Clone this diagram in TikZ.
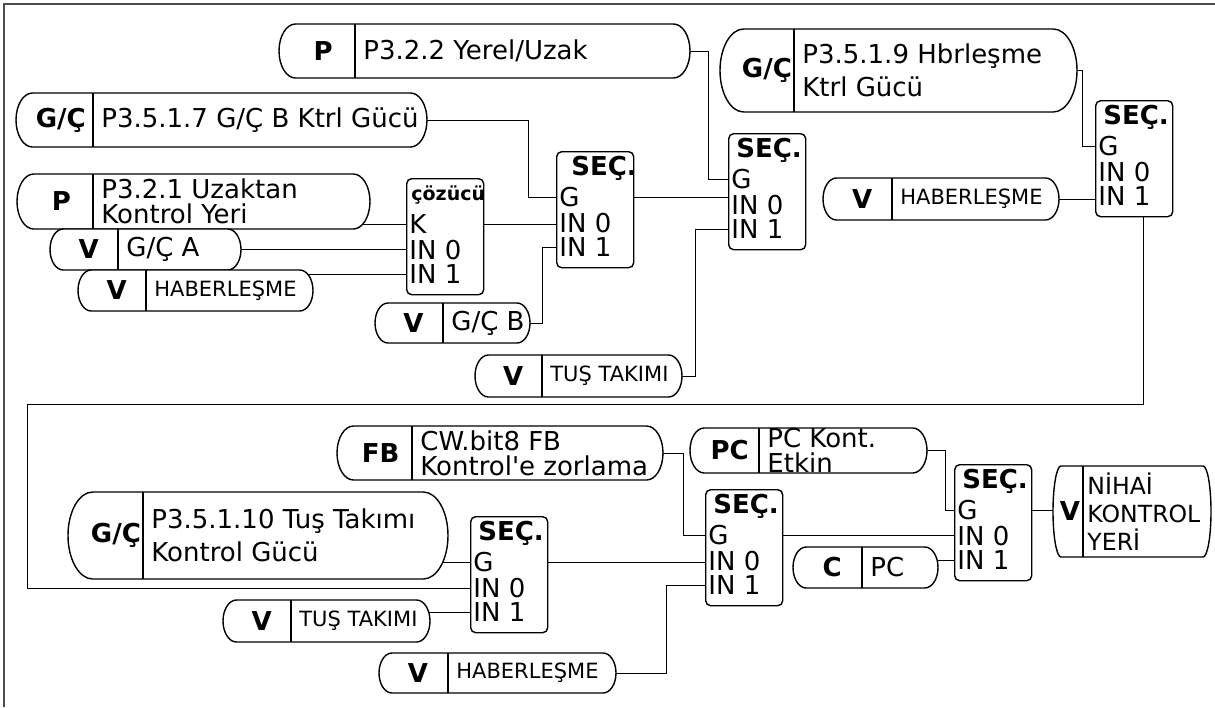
\documentclass[tikz,border=0pt]{standalone}
\usepackage{fontspec}
\setmainfont{DejaVu Sans}
\usepackage{tikz}
\usetikzlibrary{calc}
\usetikzlibrary{backgrounds}

\newcommand{\smalltxt}{\fontsize{10.5}{12}\selectfont}
\newcommand{\cozfont}{\fontsize{9.5}{10}\selectfont}

\tikzset{
  srcline/.style={draw, line width=0.7pt, fill=white},
  tagtxt/.style={inner sep=0pt, font=\fontsize{13}{14}\selectfont\bfseries},
  bodytxt/.style={anchor=west, inner sep=0pt, align=left, font=\fontsize{13}{12.5}\selectfont},
  selnode/.style={draw, line width=0.7pt, fill=white, rounded corners=2.5pt,
    minimum width=38.5pt, minimum height=58pt, inner sep=0pt},
  seltitle/.style={anchor=west, inner sep=0pt, font=\fontsize{13}{14}\selectfont\bfseries},
  selport/.style={anchor=west, inner sep=0pt, font=\fontsize{13}{13}\selectfont},
  wire/.style={line width=0.7pt},
  pageframe/.style={line width=1pt, black!70}
}

% source box: [bulge]{name}{left}{divider}{right}{top}{bottom}{tag}{text}
\newcommand{\srcbox}[9][0]{%
  \pgfmathsetmacro\sbBulge{ifthenelse(#1==0, 0.25*(#7-#6)+3, #1)}%
  \pgfmathsetmacro\sbMid{(#6+#7)/2}%
  \pgfmathsetmacro\sbRad{(#7-#6)/2}%
  \draw[srcline] (#3+\sbBulge,#6) -- (#5-\sbBulge,#6)
    arc[start angle=-90, end angle=90, x radius=\sbBulge, y radius=\sbRad]
    -- (#3+\sbBulge,#7)
    arc[start angle=90, end angle=270, x radius=\sbBulge, y radius=\sbRad] -- cycle;
  \draw[srcline] (#4,#6) -- (#4,#7);
  \node[tagtxt] (#2-tag) at ({(#3+\sbBulge+#4)/2-2},\sbMid) {#8};
  \node[bodytxt] (#2-txt) at (#4+8,\sbMid) {#9};
  \coordinate (#2) at (#5,\sbMid);
}

% selector block: [title offset]{name}{left}{top}{title}{first port}
\newcommand{\selbox}[6][8]{%
  \node[selnode, anchor=north west] (#2) at (#3,#4) {};
  \node[seltitle] (#2-t) at (#3+#1,#4+17.5) {#5};
  \node[selport] (#2-sel) at (#3+3,#4+46) {#6};
  \node[selport] (#2-in0) at (#3+3,#4+72) {IN 0};
  \node[selport] (#2-in1) at (#3+3,#4+96) {IN 1};
}

\begin{document}
\begin{tikzpicture}[x=0.5pt, y=-0.5pt]
    \useasboundingbox (0,0) rectangle (1215,707);

    % Page frame
    \draw[pageframe] (4,707) -- (4,4) -- (1215,4);

    % Upper chain
    \srcbox{p322}{279}{355}{690}{24}{78}{P}{P3.2.2 Yerel/Uzak}
    \srcbox{gc3517}{16}{93}{427}{93}{147}{G/Ç}{P3.5.1.7 G/Ç B Ktrl Gücü}
    \srcbox{gc3519}{720}{794}{1077}{29}{112}{G/Ç}{P3.5.1.9 Hbrleşme\\[4pt]Ktrl Gücü}
    \srcbox{vhab1}{823}{892}{1059}{178}{220}{V}{\smalltxt HABERLEŞME}
    \srcbox{p321}{17}{93}{370}{174}{229}{P}{P3.2.1 Uzaktan\\Kontrol Yeri}
    \srcbox{vgca}{50}{118}{241}{229}{270}{V}{G/Ç A}
    \srcbox{vhab2}{78}{146}{313}{270}{311}{V}{\smalltxt HABERLEŞME}
    \srcbox{vgcb}{375}{443}{530}{303}{343}{V}{G/Ç B}
    \srcbox{vtus1}{475}{542}{682}{355}{397}{V}{\smalltxt TUŞ TAKIMI}

    \selbox[5]{coz}{406}{178}{\cozfont çözücü}{K}
    \selbox[15]{sec1}{556}{151}{SEÇ.}{G}
    \selbox{sec2}{728}{133}{SEÇ.}{G}
    \selbox{sec3}{1095}{100}{SEÇ.}{G}

    % Lower chain
    \srcbox{fb}{337}{412}{663}{426}{480}{FB}{CW.bit8 FB\\Kontrol\textquotesingle e zorlama}
    \srcbox{pck}{690}{759}{927}{428}{473}{PC}{PC Kont.\\Etkin}
    \srcbox{gc35110}{68}{143}{448}{492}{579}{G/Ç}{P3.5.1.10 Tuş Takımı\\[4pt]Kontrol Gücü}
    \srcbox{vtus2}{223}{291}{430}{600}{642}{V}{\smalltxt TUŞ TAKIMI}
    \srcbox{vhab3}{379}{448}{616}{653}{693}{V}{\smalltxt HABERLEŞME}
    \srcbox{cpc}{793}{862}{938}{547}{588}{C}{PC}
    \begin{scope}[bodytxt/.append style={font=\fontsize{11.8}{12}\selectfont, xshift=-2pt}]
        \srcbox[8]{nihai}{1053}{1083}{1211}{466}{557}{V}{NİHAİ\\[2pt]KONTROL\\[2pt]YERİ}
    \end{scope}

    \selbox{secA}{470}{516}{SEÇ.}{G}
    \selbox{secB}{705}{489}{SEÇ.}{G}
    \selbox{secC}{954}{464}{SEÇ.}{G}

    \coordinate (loopL) at (27,404);

    % Connectors
    \begin{scope}[on background layer, wire]
        \draw (p322) -- ++(18,0) |- (sec2.west |- sec2-sel);
        \draw (gc3517) -- ++(101,0) |- (sec1.west |- sec1-sel);
        \draw (p321-txt.center |- coz-sel) -- (coz.west |- coz-sel);
        \draw (vgca) -- (vgca -| coz.west);
        \draw (vhab2-txt.center |- coz-in1) -- (coz.west |- coz-in1);
        \draw (coz.east |- coz-sel) -- (sec1.west |- coz-sel);
        \draw (vgcb) -- ++(12,0) |- (sec1.west |- sec1-in1);
        \draw (sec1.east |- sec1-sel) -- (sec2.west |- sec1-sel);
        \draw (vtus1) -- ++(13,0) |- (sec2.west |- sec2-in1);
        \draw (gc3519) -- ++(5,0) |- (sec3.west |- sec3-sel);
        \draw (vhab1) -- (vhab1 -| sec3.west);
        \draw ($(sec3.south)+(9,0)$) |- (loopL) |- (secA.west |- secA-in0);

        \draw (fb) -- ++(20,0) |- (secB.west |- secB-sel);
        \draw (gc35110-txt.center |- secA-sel) -- (secA.west |- secA-sel);
        \draw (vtus2-txt.center |- secA-in1) -- (secA.west |- secA-in1);
        \draw (secA.east |- secA-sel) -- (secB.west |- secA-sel);
        \draw (vhab3) -- ++(50,0) |- (secB.west |- secB-in1);
        \draw (pck) -- ++(18,0) |- (secC.west |- secC-sel);
        \draw (secB.east |- secB-sel) -- (secC.west |- secB-sel);
        \draw (cpc-txt.center |- secC-in1) -- (secC.west |- secC-in1);
        \draw (secC.east |- secC-sel) -- (nihai-txt.center |- secC-sel);
    \end{scope}
\end{tikzpicture}
\end{document}
